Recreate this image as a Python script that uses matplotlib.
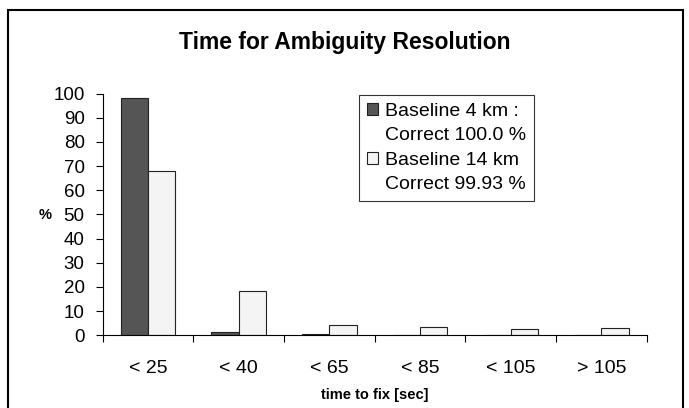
import matplotlib
matplotlib.use("Agg")
import matplotlib.pyplot as plt
import matplotlib.patches as mpatches
import numpy as np

plt.rcParams["font.family"] = ["Liberation Sans", "DejaVu Sans"]

categories = ["< 25", "< 40", "< 65", "< 85", "< 105", "> 105"]
baseline_4km = [98.0, 1.5, 0.5, 0.0, 0.0, 0.0]
baseline_14km = [68.0, 18.5, 4.2, 3.4, 2.7, 3.0]
legend_labels = ["Baseline 4 km :", "Correct 100.0 %", "Baseline 14 km", "Correct 99.93 %"]

DARK = "#555555"
LIGHT = "#f4f4f4"

fig = plt.figure(figsize=(6.89, 4.08), dpi=100)
fig.patch.set_facecolor("white")

# outer frame round the whole chart
fig.patches.append(mpatches.Rectangle((7.5 / 689, -0.02), 675.5 / 689, 1.02 - 10 / 408,
                                      transform=fig.transFigure, fill=False,
                                      edgecolor="black", linewidth=1.5))

ax = fig.add_axes([102.7 / 689, 1 - 335.3 / 408, 544 / 689, 241.8 / 408])

x = np.arange(len(categories))
w = 0.3
ax.bar(x - w / 2, baseline_4km, width=w, color=DARK, edgecolor="#222222", linewidth=0.8)
ax.bar(x + w / 2, baseline_14km, width=w, color=LIGHT, edgecolor="#222222", linewidth=0.8)

ax.set_xlim(-0.5, len(categories) - 0.5)
ax.set_ylim(0, 100)
ax.set_yticks(range(0, 101, 10))
ax.set_xticks(x)
ax.set_xticklabels(categories)
ax.set_xticks(np.arange(-0.5, len(categories), 1.0), minor=True)
ax.tick_params(axis="x", which="major", length=0, labelsize=14, pad=18)
ax.tick_params(axis="x", which="minor", length=5, width=0.8, direction="out")
ax.tick_params(axis="y", length=5, width=0.8, labelsize=13.5, pad=8)

for s in ("top", "right"):
    ax.spines[s].set_visible(False)
for s in ("left", "bottom"):
    ax.spines[s].set_linewidth(0.8)

ax.set_xlabel("time to fix [sec]", fontsize=10.5, fontweight="bold", labelpad=8)
fig.text(45 / 689, 1 - 215 / 408, "%", fontsize=10.5, fontweight="bold",
         ha="center", va="center")

fig.text(0.5, 1 - 42 / 408, "Time for Ambiguity Resolution", fontsize=16.5,
         fontweight="bold", ha="center", va="center")

handles = [
    mpatches.Patch(facecolor=DARK, edgecolor="#222222", linewidth=0.8),
    mpatches.Patch(visible=False),
    mpatches.Patch(facecolor=LIGHT, edgecolor="#222222", linewidth=0.8),
    mpatches.Patch(visible=False),
]
leg = fig.legend(handles=handles, labels=legend_labels, loc="upper left",
                 bbox_to_anchor=(359 / 689, 1 - 95 / 408), fontsize=14,
                 frameon=True, fancybox=False, edgecolor="black",
                 handlelength=0.6, handleheight=0.6, handletextpad=0.35,
                 labelspacing=0.38, borderpad=0.4, borderaxespad=0)
leg.get_frame().set_linewidth(0.8)

fig.savefig("out.png", dpi=100)
